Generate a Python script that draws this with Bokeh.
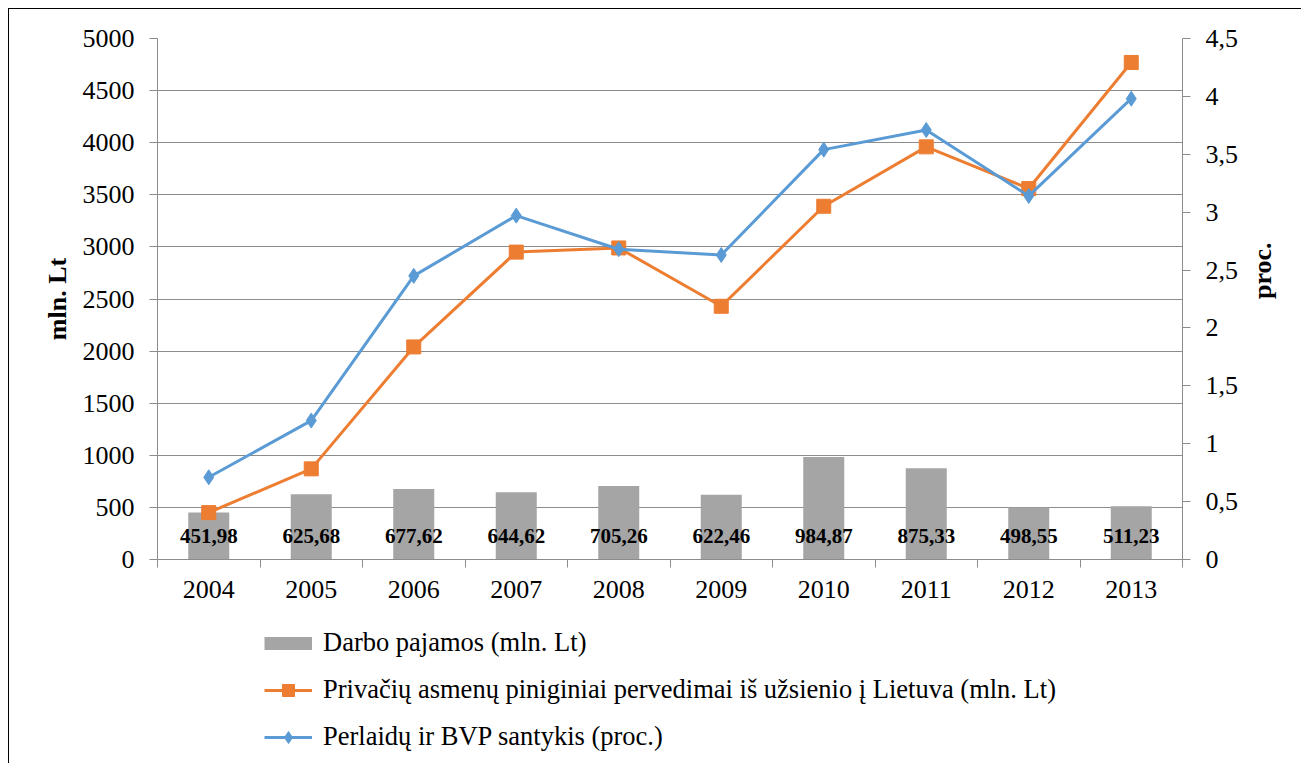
import math
from bokeh.plotting import figure
from bokeh.layouts import column
from bokeh.models import (Range1d, LinearAxis, FixedTicker, Legend, LegendItem,
                          ColumnDataSource)
from bokeh.core.properties import value
from bokeh.embed import file_html
from bokeh.resources import INLINE

years = ["2004", "2005", "2006", "2007", "2008", "2009", "2010", "2011", "2012", "2013"]
darbo = [451.98, 625.68, 677.62, 644.62, 705.26, 622.46, 984.87, 875.33, 498.55, 511.23]
darbo_labels = ["451,98", "625,68", "677,62", "644,62", "705,26", "622,46", "984,87", "875,33", "498,55", "511,23"]
pervedimai = [450, 870, 2040, 2950, 2990, 2430, 3390, 3960, 3560, 4770]
santykis = [0.71, 1.20, 2.45, 2.97, 2.68, 2.63, 3.54, 3.71, 3.14, 3.98]
left_ticks = [0, 500, 1000, 1500, 2000, 2500, 3000, 3500, 4000, 4500, 5000]
right_ticks = [0, 0.5, 1, 1.5, 2, 2.5, 3, 3.5, 4, 4.5]
right_tick_labels = ["0", "0,5", "1", "1,5", "2", "2,5", "3", "3,5", "4", "4,5"]
legend_labels = ["Darbo pajamos (mln. Lt)",
                 "Privačių asmenų piniginiai pervedimai iš užsienio į Lietuva (mln. Lt)",
                 "Perlaidų ir BVP santykis (proc.)"]
label_y = 230

FONT = "Liberation Serif"
GRAY = "#A5A5A5"
ORANGE = "#ED7D31"
BLUE = "#5B9BD5"
GRID = "#8C8C8C"

xc = [i + 0.5 for i in range(len(years))]
src = ColumnDataSource(dict(x=xc, darbo=darbo, lab=darbo_labels, ly=[label_y] * len(years),
                            perv=pervedimai, sant=santykis))

p = figure(width=1292, height=608, output_backend="svg", toolbar_location=None,
           x_range=Range1d(0, len(years)), y_range=Range1d(0, 5000),
           min_border_left=148, min_border_right=119, min_border_top=29, min_border_bottom=58)
p.extra_y_ranges = {"pct": Range1d(0, 4.5)}
p.outline_line_color = None
p.background_fill_color = "white"
p.border_fill_color = "white"

# axes
p.xaxis.ticker = FixedTicker(ticks=xc, minor_ticks=list(range(len(years) + 1)))
p.xaxis.major_label_overrides = {x: y for x, y in zip(xc, years)}
p.xaxis.major_tick_out = 0
p.xaxis.major_tick_in = 0
p.xaxis.minor_tick_out = 8
p.xaxis.minor_tick_in = 0
p.xaxis.minor_tick_line_color = GRID
p.xaxis.axis_line_color = GRID
p.xaxis.major_label_text_font = FONT
p.xaxis.major_label_text_font_size = "26px"
p.xaxis.major_label_text_color = "black"
p.xaxis.major_label_standoff = 13

p.yaxis.ticker = FixedTicker(ticks=left_ticks)
p.yaxis.minor_tick_line_color = None
p.yaxis.major_tick_out = 8
p.yaxis.major_tick_in = 0
p.yaxis.major_tick_line_color = GRID
p.yaxis.axis_line_color = GRID
p.yaxis.major_label_text_font = FONT
p.yaxis.major_label_text_font_size = "26px"
p.yaxis.major_label_text_color = "black"
p.yaxis.major_label_standoff = 15
p.yaxis.axis_label = "mln. Lt"
p.yaxis.axis_label_text_font = FONT
p.yaxis.axis_label_text_font_size = "26px"
p.yaxis.axis_label_text_font_style = "bold"
p.yaxis.axis_label_text_color = "black"
p.yaxis.axis_label_standoff = 8

ra = LinearAxis(y_range_name="pct", ticker=FixedTicker(ticks=right_ticks))
ra.major_label_overrides = {t: l for t, l in zip(right_ticks, right_tick_labels)}
ra.minor_tick_line_color = None
ra.major_tick_out = 8
ra.major_tick_in = 0
ra.major_tick_line_color = GRID
ra.axis_line_color = GRID
ra.major_label_text_font = FONT
ra.major_label_text_font_size = "26px"
ra.major_label_text_color = "black"
ra.major_label_standoff = 15
ra.axis_label = "proc."
ra.axis_label_text_font = FONT
ra.axis_label_text_font_size = "26px"
ra.axis_label_text_font_style = "bold"
ra.axis_label_text_color = "black"
ra.axis_label_standoff = 21
if hasattr(ra, "axis_label_orientation"):
    ra.axis_label_orientation = math.pi / 2
p.add_layout(ra, "right")

p.xgrid.grid_line_color = None
p.ygrid.ticker = FixedTicker(ticks=left_ticks)
p.ygrid.grid_line_color = GRID
p.ygrid.grid_line_width = 1

# bars
p.vbar(x="x", top="darbo", width=0.4, source=src, fill_color=GRAY, line_color=None)
p.text(x="x", y="ly", text="lab", source=src, text_align="center", text_baseline="middle",
       text_font=value(FONT), text_font_size="21px", text_font_style="bold", text_color="black")

# lines
p.line(x="x", y="perv", source=src, line_color=ORANGE, line_width=3)
p.scatter(x="x", y="perv", source=src, marker="square", size=14, fill_color=ORANGE, line_color=ORANGE)
p.line(x="x", y="sant", source=src, line_color=BLUE, line_width=3, y_range_name="pct")
p.scatter(x="x", y="sant", source=src, marker="diamond", size=15, fill_color=BLUE, line_color=BLUE,
          y_range_name="pct")

# legend figure below the chart
lf = figure(width=1292, height=146, output_backend="svg", toolbar_location=None,
            x_range=Range1d(0, 1), y_range=Range1d(0, 1),
            min_border_left=0, min_border_right=0, min_border_top=0, min_border_bottom=0)
lf.axis.visible = False
lf.grid.visible = False
lf.outline_line_color = None
lf.border_fill_color = "white"
nan = [float("nan")]
g_bar = lf.line(x=nan, y=nan, line_color=GRAY, line_width=13)
g_ol = lf.line(x=nan, y=nan, line_color=ORANGE, line_width=3)
g_om = lf.scatter(x=nan, y=nan, marker="square", size=12, fill_color=ORANGE, line_color=ORANGE)
g_bl = lf.line(x=nan, y=nan, line_color=BLUE, line_width=3)
g_bm = lf.scatter(x=nan, y=nan, marker="diamond", size=13, fill_color=BLUE, line_color=BLUE)

legend = Legend(items=[
    LegendItem(label=legend_labels[0], renderers=[g_bar]),
    LegendItem(label=legend_labels[1], renderers=[g_ol, g_om]),
    LegendItem(label=legend_labels[2], renderers=[g_bl, g_bm]),
], location=(107, 11))
legend.label_text_font = FONT
legend.label_text_font_size = "26.5px"
legend.label_text_color = "black"
legend.glyph_width = 48
legend.glyph_height = 30
legend.label_height = 30
legend.label_standoff = 11
legend.spacing = 16
legend.padding = 0
legend.margin = 0
legend.border_line_color = None
legend.background_fill_alpha = 0
lf.add_layout(legend, "center")

layout = column(p, lf, spacing=0)
layout.styles = {"margin-left": "8px", "margin-top": "8px",
                 "border-left": "1px solid black", "border-top": "1px solid black"}

open("out.html", "w").write(file_html(layout, INLINE))
